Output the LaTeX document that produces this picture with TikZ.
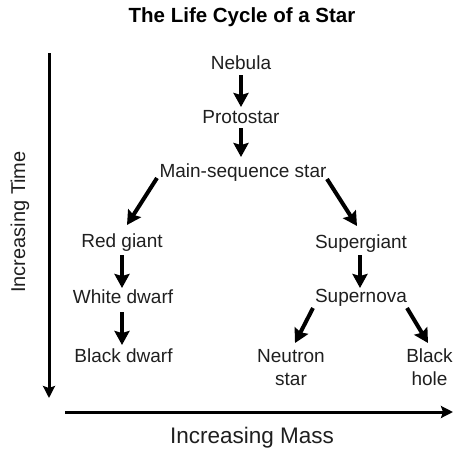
\documentclass[tikz,border=0pt]{standalone}
\usepackage{fontspec}
\setmainfont{Liberation Sans}
\usetikzlibrary{arrows.meta}
\begin{document}
\begin{tikzpicture}[x=1pt,y=-1pt,
  lbl/.style={inner sep=0pt,anchor=base,text=black!88,font=\fontsize{19}{23}\selectfont,align=center},
  arr/.style={line width=4pt,-{Stealth[length=14pt,width=15pt,inset=2pt]}},
  axis/.style={line width=3pt,-{Stealth[length=12pt,width=12pt,inset=2pt]}}]
\useasboundingbox (0,0) rectangle (463,453);
\node[inner sep=0pt,anchor=base,font=\bfseries\fontsize{20.5}{24}\selectfont] (title) at (242,22) {The Life Cycle of a Star};
\node[lbl] (neb) at (241,69) {Nebula};
\node[lbl] (proto) at (241,123) {Protostar};
\node[lbl] (main) at (243,177) {Main-sequence star};
\node[lbl] (red) at (122,247) {Red giant};
\node[lbl] (sg) at (361,248) {Supergiant};
\node[lbl] (wd) at (123,303) {White dwarf};
\node[lbl] (sn) at (361,302) {Supernova};
\node[lbl] (bd) at (123.5,362) {Black dwarf};
\node[lbl] (ns) at (291,385) {Neutron\\star};
\node[lbl] (bh) at (429.5,385) {Black\\hole};
\node[lbl,anchor=center,font=\fontsize{20}{24}\selectfont,rotate=90] (time) at (20,222) {Increasing Time};
\node[lbl,font=\fontsize{22.5}{26}\selectfont] (mass) at (252,443) {Increasing Mass};
\coordinate (t0) at (49,53);
\coordinate (t1) at (49,398);
\coordinate (m0) at (65,412);
\coordinate (m1) at (453,412);
\draw[axis] (t0) -- (t1);
\draw[axis] (m0) -- (m1);
\draw[arr] ([shift={(0,6)}]neb.base) -- ([shift={(0,-16)}]proto.base);
\draw[arr] ([shift={(0,5)}]proto.base) -- ([shift={(-2,-20)}]main.base);
\draw[arr] ([shift={(-86,1)}]main.base) -- ([shift={(5,-22)}]red.base);
\draw[arr] ([shift={(84,2)}]main.base) -- ([shift={(-4,-22)}]sg.base);
\draw[arr] ([shift={(0,8)}]red.base) -- ([shift={(-1,-15)}]wd.base);
\draw[arr] ([shift={(-1,9)}]wd.base) -- ([shift={(-1.5,-17)}]bd.base);
\draw[arr] ([shift={(-1,7)}]sg.base) -- ([shift={(-1,-14)}]sn.base);
\draw[arr] ([shift={(-48,6)}]sn.base) -- ([shift={(4,-42)}]ns.base);
\draw[arr] ([shift={(46,6)}]sn.base) -- ([shift={(-1.5,-42)}]bh.base);
\end{tikzpicture}
\end{document}
